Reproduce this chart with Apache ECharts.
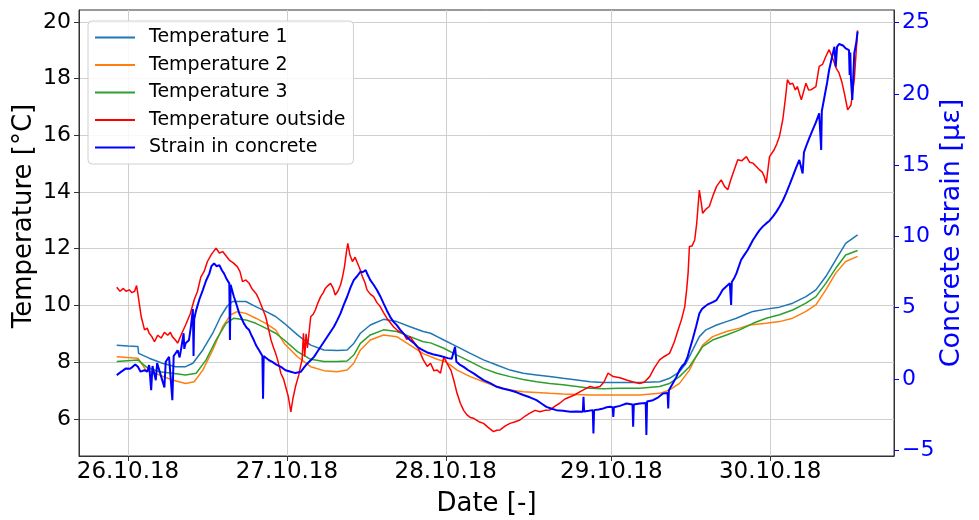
<!DOCTYPE html>
<html>
<head>
<meta charset="utf-8">
<script src="https://cdn.jsdelivr.net/npm/echarts@6/dist/echarts.min.js"></script>
<style>
  html, body { margin: 0; padding: 0; background: #fff; }
  #chart { width: 979px; height: 520px; }
</style>
</head>
<body>
<div id="chart"></div>
<script>
// hours since 26.10.18 00:00 local time (the 28th has 25 h, end of DST)
const tickHours = [0, 24, 48, 73, 97];
const tickLabels = ['26.10.18', '27.10.18', '28.10.18', '29.10.18', '30.10.18'];
const tempTicks = [6, 8, 10, 12, 14, 16, 18, 20];
const strainTicks = [-5, 0, 5, 10, 15, 20, 25];

const temp1 = [[-1.7,8.6],[0,8.57],[1.5,8.55],[1.6,8.31],[3.2,8.14],[5.2,7.96],[7.2,7.84],[8.7,7.84],[9.8,7.96],
  [11.3,8.43],[12.8,9.02],[14.0,9.61],[15.0,9.98],[15.8,10.14],[17.8,10.14],[19.3,9.96],[20.8,9.79],[22.3,9.61],
  [23.6,9.37],[25.6,8.96],[27.6,8.6],[29.6,8.43],[31.6,8.41],[33.1,8.43],[34.1,8.66],[35.1,9.02],[36.6,9.31],
  [38.6,9.51],[40.6,9.43],[42.6,9.25],[44.6,9.08],[45.7,9.02],[46.7,8.9],[47.7,8.78],[49.7,8.55],[51.7,8.31],
  [53.7,8.08],[55.7,7.9],[57.7,7.72],[59.7,7.61],[61.7,7.55],[63.7,7.49],[65.7,7.43],[67.8,7.37],[69.8,7.31],
  [71.8,7.28],[74.3,7.28],[77.3,7.28],[80.3,7.31],[81.8,7.43],[83.3,7.66],[84.3,7.96],[85.3,8.43],[86.3,8.9],
  [87.3,9.14],[88.9,9.31],[90.4,9.43],[91.9,9.55],[93.4,9.7],[94.4,9.79],[96.4,9.87],[98.4,9.94],[100.4,10.08],
  [102.4,10.31],[103.9,10.55],[105.4,11.02],[106.9,11.61],[108.4,12.19],[110.2,12.49]];

const temp2 = [[-1.7,8.19],[1.5,8.14],[2.7,7.72],[4.7,7.55],[6.7,7.37],[8.7,7.25],[10.0,7.31],[11.3,7.72],
  [12.8,8.43],[14.3,9.25],[15.5,9.67],[16.5,9.78],[17.8,9.72],[19.3,9.55],[20.8,9.37],[22.3,9.14],[23.6,8.66],
  [25.6,8.19],[27.6,7.84],[29.6,7.7],[31.6,7.66],[33.1,7.72],[34.1,7.96],[35.1,8.43],[36.6,8.78],[38.6,8.96],
  [40.6,8.9],[42.6,8.6],[44.6,8.3],[46.7,8.1],[48.1,8.0],[49.7,7.72],[51.7,7.49],[53.7,7.31],[55.7,7.14],
  [57.7,7.02],[59.7,6.96],[61.7,6.93],[63.7,6.9],[65.7,6.88],[67.8,6.86],[69.8,6.84],[71.8,6.84],[75.3,6.84],
  [77.3,6.84],[80.3,6.9],[81.8,7.02],[83.3,7.25],[84.8,7.72],[85.8,8.19],[86.8,8.6],[88.3,8.9],[90.4,9.08],
  [92.4,9.2],[93.9,9.31],[96.4,9.37],[98.4,9.43],[100.4,9.55],[102.4,9.79],[103.9,10.02],[105.4,10.55],
  [106.9,11.14],[108.4,11.55],[110.2,11.73]];

const temp3 = [[-1.7,8.02],[1.5,8.08],[2.7,7.84],[4.7,7.66],[6.7,7.61],[8.7,7.55],[10.3,7.61],[11.8,8.08],
  [13.3,8.78],[14.8,9.37],[16.0,9.55],[17.8,9.49],[19.3,9.37],[20.8,9.2],[22.3,9.02],[23.6,8.78],[25.6,8.37],
  [27.6,8.1],[29.6,8.02],[31.6,8.02],[33.1,8.04],[34.1,8.25],[35.1,8.66],[36.6,8.96],[38.6,9.14],[40.6,9.08],
  [42.6,8.9],[44.6,8.72],[45.7,8.68],[47.7,8.49],[49.7,8.25],[51.7,8.02],[53.7,7.78],[55.7,7.61],[57.7,7.49],
  [59.7,7.39],[61.7,7.31],[63.7,7.25],[65.7,7.2],[67.8,7.14],[69.8,7.08],[71.8,7.06],[74.3,7.08],[77.3,7.08],
  [80.3,7.14],[81.8,7.25],[83.3,7.49],[84.8,7.84],[85.8,8.19],[86.8,8.55],[88.3,8.78],[90.4,8.96],[92.4,9.14],
  [94.4,9.37],[96.4,9.55],[98.4,9.67],[100.4,9.84],[102.4,10.08],[103.9,10.31],[105.4,10.78],[106.9,11.31],
  [108.4,11.78],[110.2,11.94]];

const tempOutside = [[-1.7,10.64],[-1.2,10.5],[-0.7,10.6],[-0.3,10.5],[0.2,10.55],[0.6,10.45],[1.0,10.5],
  [1.3,10.7],[1.5,10.4],[2.0,9.6],[2.5,9.14],[2.9,9.2],[3.2,9.02],[3.6,8.9],[4.0,8.72],[4.5,8.95],[5.0,8.85],
  [5.5,9.05],[6.0,8.95],[6.4,9.05],[6.7,8.9],[7.1,8.8],[7.5,8.67],[8.1,9.0],[8.7,9.31],[9.4,9.7],[10.0,10.2],
  [10.5,10.5],[11.0,11.0],[11.5,11.2],[12.0,11.55],[12.6,11.8],[13.3,12.02],[13.8,11.85],[14.3,11.9],[14.8,11.75],
  [15.3,11.6],[15.9,11.5],[16.5,11.37],[16.9,11.2],[17.3,10.84],[17.8,10.9],[18.3,10.78],[18.7,10.6],[19.0,10.55],
  [19.4,10.4],[19.8,10.2],[20.3,9.9],[20.8,9.6],[21.2,9.2],[21.6,8.78],[22.0,8.5],[22.3,8.31],[22.6,8.08],
  [22.9,7.8],[23.1,7.6],[23.5,7.4],[23.8,7.14],[24.2,6.8],[24.6,6.25],[24.9,6.7],[25.3,7.14],[25.8,7.55],
  [26.1,7.9],[26.3,8.08],[26.5,9.02],[26.7,8.2],[26.9,9.0],[27.1,8.5],[27.6,9.6],[28.0,9.7],[28.3,9.84],
  [28.7,10.1],[29.1,10.31],[29.5,10.45],[29.8,10.6],[30.2,10.7],[30.6,10.78],[31.0,10.6],[31.3,10.37],
  [31.7,10.5],[32.1,10.72],[32.4,11.0],[32.7,11.37],[33.0,11.9],[33.2,12.19],[33.5,11.8],[33.9,11.55],
  [34.3,11.7],[34.6,11.67],[35.0,11.3],[35.4,11.02],[35.8,10.8],[36.1,10.55],[36.6,10.4],[37.1,10.31],
  [37.6,10.1],[38.1,9.96],[38.6,9.75],[39.1,9.55],[39.6,9.4],[40.1,9.25],[40.8,9.1],[41.6,9.02],[42.1,8.8],
  [42.6,8.9],[43.2,8.7],[43.7,8.55],[44.2,8.3],[44.6,8.08],[45.2,7.85],[45.7,7.96],[46.2,7.7],[46.7,7.72],
  [47.2,7.61],[47.7,8.19],[48.1,8.0],[48.4,7.96],[48.8,7.7],[49.2,7.37],[49.7,6.9],[50.2,6.55],[50.7,6.3],
  [51.2,6.14],[51.7,6.05],[52.2,6.02],[53.0,5.9],[53.7,5.84],[54.4,5.7],[55.2,5.55],[55.7,5.6],[56.2,5.61],
  [57.0,5.75],[57.7,5.84],[58.5,5.9],[59.2,5.96],[60.0,6.1],[60.7,6.2],[61.5,6.3],[62.2,6.25],[63.0,6.3],
  [63.7,6.31],[64.5,6.45],[65.2,6.55],[66.0,6.7],[66.8,6.78],[67.5,6.85],[68.3,6.96],[69.0,7.05],[69.8,7.14],
  [70.5,7.1],[71.3,7.14],[71.9,7.3],[72.5,7.61],[73.3,7.49],[74.3,7.45],[75.3,7.37],[76.3,7.3],[77.3,7.25],
  [78.0,7.3],[78.8,7.49],[79.5,7.8],[80.3,8.08],[81.0,8.2],[81.8,8.31],[82.5,8.7],[83.1,9.14],[83.6,9.5],
  [84.1,9.96],[84.4,10.6],[84.6,11.14],[84.8,12.08],[85.2,12.1],[85.6,12.31],[85.9,12.9],[86.1,13.49],
  [86.3,14.07],[86.6,13.6],[86.8,13.25],[87.3,13.4],[87.8,13.49],[88.4,13.9],[88.9,14.2],[89.6,14.43],
  [90.1,14.2],[90.6,14.08],[91.0,14.4],[91.4,14.67],[92.1,15.14],[92.7,15.1],[93.4,15.25],[93.9,15.05],
  [94.4,15.02],[94.9,14.9],[95.4,14.78],[95.8,14.7],[96.1,14.55],[96.4,14.31],[96.9,15.25],[97.6,15.49],
  [98.0,15.7],[98.4,15.96],[98.9,16.55],[99.3,17.3],[99.6,17.96],[100.0,17.8],[100.4,17.84],[100.8,17.6],
  [101.1,17.72],[101.7,17.25],[102.0,17.5],[102.4,17.84],[102.8,17.6],[103.2,17.61],[103.9,17.72],[104.4,18.43],
  [104.9,18.5],[105.4,18.78],[105.9,19.02],[106.3,18.8],[106.7,18.55],[107.0,18.35],[107.4,18.2],[107.8,17.9],
  [108.2,17.49],[108.7,16.9],[109.2,17.07],[109.7,17.96],[110.0,19.0],[110.2,19.7]];

const strain = [[-1.7,0.26],[-1.0,0.5],[-0.3,0.73],[0.3,0.7],[0.7,0.84],[1.1,1.0],[1.5,0.84],[1.9,0.5],[2.2,0.38],
  [2.5,0.6],[2.9,0.5],[3.2,0.96],[3.5,-0.8],[3.7,0.9],[4.2,-0.1],[4.4,1.1],[4.7,1.19],[5.5,-0.6],[5.7,1.2],
  [6.2,1.54],[6.7,-1.5],[6.9,1.6],[7.5,2.0],[7.8,1.5],[8.1,2.3],[8.4,3.2],[8.5,2.1],[8.7,2.49],[9.2,2.7],
  [9.5,3.65],[9.8,4.9],[9.9,1.6],[10.0,4.2],[10.3,4.82],[10.8,5.6],[11.3,6.23],[11.8,6.9],[12.3,7.4],[12.6,7.9],
  [13.0,8.1],[13.4,7.9],[13.8,7.98],[14.2,7.6],[14.5,7.4],[14.9,7.0],[15.3,6.7],[15.4,2.72],[15.5,6.6],
  [16.0,5.76],[16.4,5.2],[16.8,4.59],[17.2,4.2],[17.5,3.89],[17.9,3.6],[18.3,3.42],[18.7,3.0],[19.0,2.72],
  [19.4,2.3],[19.8,2.0],[20.3,1.6],[20.4,-1.4],[20.5,1.6],[20.8,1.54],[21.3,1.3],[21.8,1.19],[22.4,1.0],
  [23.1,0.84],[23.8,0.6],[24.6,0.49],[25.3,0.4],[26.1,0.49],[26.6,0.8],[27.1,1.08],[27.6,1.3],[28.1,1.54],
  [28.6,1.9],[29.1,2.25],[29.6,2.6],[30.1,2.95],[30.6,3.3],[31.1,3.65],[31.6,4.1],[32.1,4.59],[32.6,5.2],
  [33.1,5.76],[33.6,6.4],[34.1,6.93],[34.6,7.2],[35.1,7.51],[35.5,7.5],[35.9,7.63],[36.2,7.3],[36.6,6.93],
  [37.1,6.6],[37.6,6.23],[38.1,5.8],[38.6,5.29],[39.1,4.8],[39.6,4.35],[40.1,4.0],[40.6,3.77],[41.1,3.45],
  [41.6,3.19],[42.1,2.95],[42.6,2.72],[43.2,2.5],[43.7,2.25],[44.2,2.1],[44.6,2.0],[45.2,1.85],[45.7,1.78],
  [46.2,1.7],[46.7,1.66],[47.2,1.6],[47.7,1.54],[48.3,1.45],[48.9,1.4],[49.2,1.31],[49.4,2.25],[49.6,1.2],
  [50.1,1.0],[50.7,0.84],[51.4,0.6],[52.2,0.38],[52.9,0.15],[53.7,-0.09],[54.7,-0.3],[55.7,-0.56],[56.7,-0.7],
  [57.7,-0.8],[58.7,-0.95],[59.7,-1.14],[60.7,-1.3],[61.7,-1.5],[62.5,-1.75],[63.2,-1.97],[64.0,-2.1],
  [64.7,-2.2],[65.7,-2.25],[66.8,-2.32],[67.7,-2.3],[68.7,-2.32],[68.8,-1.27],[68.9,-2.3],[69.6,-2.25],
  [70.2,-2.2],[70.3,-3.84],[70.4,-2.2],[71.1,-2.15],[71.8,-2.08],[72.3,-2.0],[72.8,-1.97],[73.2,-2.0],
  [73.3,-2.67],[73.4,-2.0],[74.3,-1.9],[75.3,-1.73],[76.2,-1.8],[76.3,-3.37],[76.4,-1.8],[77.3,-1.73],
  [78.2,-1.7],[78.3,-3.95],[78.4,-1.6],[79.3,-1.5],[80.1,-1.3],[80.8,-1.03],[81.5,-1.0],[81.6,-2.08],
  [81.7,-0.8],[82.3,-0.32],[82.8,0.1],[83.3,0.61],[83.7,0.9],[84.1,1.08],[84.5,1.5],[84.8,2.0],[85.3,2.8],
  [85.8,3.65],[86.3,4.59],[86.7,4.9],[87.1,5.06],[87.5,5.2],[87.8,5.29],[88.4,5.4],[88.9,5.53],[89.4,5.9],
  [89.8,6.23],[90.4,6.5],[90.9,6.7],[91.1,5.18],[91.2,6.8],[91.6,7.1],[91.9,7.4],[92.6,8.34],[93.1,8.7],
  [93.6,9.04],[94.4,9.74],[94.9,10.1],[95.4,10.44],[95.9,10.7],[96.4,10.91],[96.9,11.1],[97.4,11.38],
  [97.9,11.7],[98.4,12.08],[98.9,12.5],[99.4,13.02],[99.9,13.6],[100.4,14.19],[100.9,14.8],[101.4,15.36],
  [101.9,14.42],[102.1,15.9],[102.4,16.29],[102.9,16.9],[103.4,17.46],[103.9,18.0],[104.4,18.64],[104.7,16.06],
  [104.8,18.8],[105.2,19.8],[105.6,20.8],[105.9,21.68],[106.3,22.5],[106.7,23.31],[106.9,21.91],[107.1,23.3],
  [107.4,23.5],[107.7,23.55],[108.0,23.4],[108.4,23.2],[108.9,23.08],[109.0,21.33],[109.1,22.9],[109.2,21.0],
  [109.4,19.57],[109.7,22.85],[110.0,23.6],[110.2,24.37]];

const chart = echarts.init(document.getElementById('chart'), null, { renderer: 'canvas' });

const font = 'DejaVu Sans';
const gridColor = '#cfcfcf';
const spineColor = '#333333';

function line(name, data, color, width, yAxisIndex) {
    return {
        name: name,
        type: 'line',
        yAxisIndex: yAxisIndex,
        data: data,
        symbol: 'none',
        animation: false,
        lineStyle: { color: color, width: width },
        itemStyle: { color: color }
    };
}

const option = {
    animation: false,
    backgroundColor: '#ffffff',
    textStyle: { fontFamily: font },
    grid: {
        left: 79, right: 85, top: 10, bottom: 64,
        outerBoundsMode: 'none',
        containLabel: false,
        show: true,
        borderColor: spineColor,
        borderWidth: 1
    },
    legend: {
        orient: 'vertical',
        left: 88,
        top: 21,
        padding: [7, 8, 7, 7],
        icon: 'rect',
        itemWidth: 40,
        itemHeight: 2,
        itemGap: 8.5,
        backgroundColor: 'rgba(255,255,255,0.85)',
        borderColor: '#d0d0d0',
        borderWidth: 1,
        borderRadius: 4,
        textStyle: { fontFamily: font, fontSize: 19, lineHeight: 19, color: '#000', padding: [0, 0, 0, 9] },
        data: ['Temperature 1', 'Temperature 2', 'Temperature 3', 'Temperature outside', 'Strain in concrete']
    },
    xAxis: {
        type: 'value',
        min: -7.4,
        max: 115.7,
        name: 'Date [-]',
        nameLocation: 'middle',
        nameMoveOverlap: false,
        nameGap: 35,
        nameTextStyle: { fontFamily: font, fontSize: 26, color: '#000' },
        axisLine: { show: true, onZero: false, lineStyle: { color: spineColor, width: 1 } },
        axisTick: { show: true, length: 5, customValues: tickHours, lineStyle: { color: spineColor } },
        axisLabel: {
            customValues: tickHours,
            fontFamily: font, fontSize: 23, color: '#000', margin: 5,
            formatter: function (v) { return tickLabels[tickHours.indexOf(v)] || ''; }
        },
        splitLine: { show: true, lineStyle: { color: gridColor, width: 1 } }
    },
    yAxis: [{
        type: 'value',
        min: 4.69,
        max: 20.42,
        name: 'Temperature [°C]',
        nameLocation: 'middle',
        nameMoveOverlap: false,
        nameGap: 42,
        nameTextStyle: { fontFamily: font, fontSize: 26, color: '#000', padding: [0, 0, 0, 34] },
        axisLine: { show: true, onZero: false, lineStyle: { color: spineColor, width: 1 } },
        axisTick: { show: true, length: 5, customValues: tempTicks, lineStyle: { color: spineColor } },
        axisLabel: { customValues: tempTicks, fontFamily: font, fontSize: 22, color: '#000', margin: 8 },
        splitLine: { show: true, lineStyle: { color: gridColor, width: 1 } }
    }, {
        type: 'value',
        position: 'right',
        min: -5.42,
        max: 25.89,
        name: 'Concrete strain [με]',
        nameLocation: 'middle',
        nameMoveOverlap: false,
        nameGap: 44,
        nameRotate: 90,
        nameTextStyle: { fontFamily: font, fontSize: 27, color: '#0000ff' },
        axisLine: { show: true, onZero: false, lineStyle: { color: spineColor, width: 1 } },
        axisTick: { show: true, length: 5, customValues: strainTicks, lineStyle: { color: '#0000ff' } },
        axisLabel: {
            customValues: strainTicks, fontFamily: font, fontSize: 22, color: '#0000ff', margin: 8,
            formatter: function (v) { return v < 0 ? '\u2212' + Math.abs(v) : String(v); }
        },
        splitLine: { show: false }
    }],
    series: [
        line('Temperature 1', temp1, '#1f77b4', 1.5, 0),
        line('Temperature 2', temp2, '#ff7f0e', 1.5, 0),
        line('Temperature 3', temp3, '#2ca02c', 1.5, 0),
        line('Temperature outside', tempOutside, '#ff0000', 1.5, 0),
        line('Strain in concrete', strain, '#0000ff', 2, 1)
    ]
};

chart.setOption(option);
</script>
</body>
</html>
